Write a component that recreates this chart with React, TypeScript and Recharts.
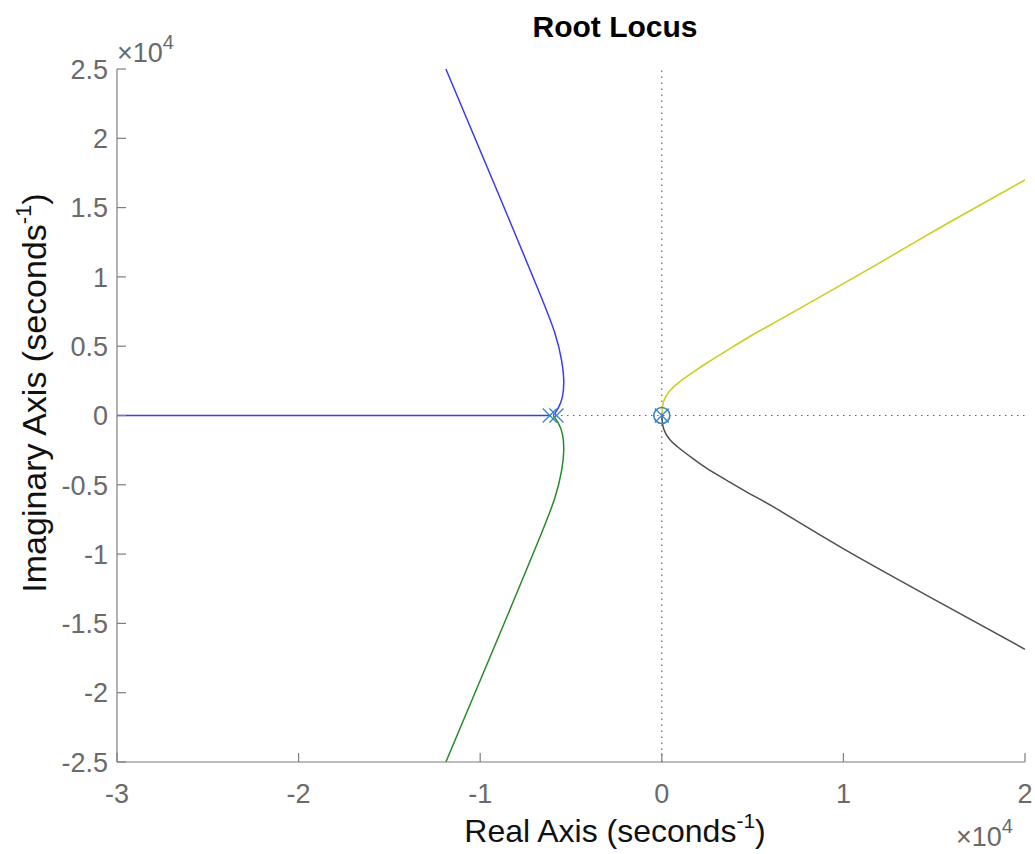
import React from 'react';
import { ComposedChart, Line, Scatter, XAxis, YAxis, ReferenceLine } from 'recharts';

// all values in units of 1e4 (seconds^-1)
const blueRe = [-0.598, -0.571, -0.547, -0.54, -0.552, -0.589, -0.672, -0.795, -0.9, -1.189];
const blueIm = [0, 0.052, 0.136, 0.256, 0.4, 0.595, 0.88, 1.27, 1.6, 2.5];
const greenRe = [-0.598, -0.571, -0.547, -0.54, -0.552, -0.589, -0.672, -0.795, -0.9, -1.189];
const greenIm = [0, -0.052, -0.136, -0.256, -0.4, -0.595, -0.88, -1.27, -1.6, -2.5];
const yellowRe = [0, 0.01, 0.045, 0.1, 0.17, 0.246, 0.36, 0.485, 0.62, 0.76, 1.072, 1.439, 1.714, 2.0];
const yellowIm = [0, 0.1, 0.18, 0.245, 0.31, 0.377, 0.47, 0.57, 0.67, 0.773, 1.005, 1.285, 1.49, 1.7];
const greyRe = [0, 0.01, 0.045, 0.1, 0.17, 0.246, 0.36, 0.485, 0.613, 0.98, 1.439, 2.0];
const greyIm = [0, -0.095, -0.175, -0.24, -0.31, -0.38, -0.47, -0.565, -0.658, -0.946, -1.283, -1.687];
const realAxisRe = [-3, -0.617];
const realAxisIm = [0, 0];
const poleRe = [-0.617, -0.58, 0];
const poleIm = [0, 0, 0];
const zeroRe = [0];
const zeroIm = [0];

const xTicks = [-3, -2, -1, 0, 1, 2];
const yTicks = [-2.5, -2, -1.5, -1, -0.5, 0, 0.5, 1, 1.5, 2, 2.5];

const toPoints = (re: number[], im: number[]) => re.map((x, i) => ({ x, y: im[i] }));

const FONT = '"Liberation Sans", Arial, Helvetica, sans-serif';
const AXIS = '#7d7d7d';
const TICK = '#6a6a6a';
const MARK = '#3a84c2';

const BottomTick = ({ x, y, payload }: any) => (
  <g>
    <line x1={x} y1={y} x2={x} y2={y - 9} stroke={AXIS} strokeWidth={1.2} />
    <text x={x} y={y + 41} textAnchor="middle" fill={TICK} fontSize={27} fontFamily={FONT}>
      {payload.value}
    </text>
  </g>
);

const TopTick = ({ x, y }: any) => (
  <line x1={x} y1={y} x2={x} y2={y + 9} stroke={AXIS} strokeWidth={1.2} />
);

const LeftTick = ({ x, y, payload }: any) => (
  <g>
    <line x1={x} y1={y} x2={x + 9} y2={y} stroke={AXIS} strokeWidth={1.2} />
    <text x={x - 9} y={y} dy="0.36em" textAnchor="end" fill={TICK} fontSize={27} fontFamily={FONT}>
      {payload.value}
    </text>
  </g>
);

const RightTick = ({ x, y }: any) => (
  <line x1={x} y1={y} x2={x - 9} y2={y} stroke={AXIS} strokeWidth={1.2} />
);

const PoleMark = ({ cx, cy }: any) => (
  <g stroke={MARK} strokeWidth={1.3}>
    <line x1={cx - 7} y1={cy - 7} x2={cx + 7} y2={cy + 7} />
    <line x1={cx - 7} y1={cy + 7} x2={cx + 7} y2={cy - 7} />
  </g>
);

const ZeroMark = ({ cx, cy }: any) => (
  <circle cx={cx} cy={cy} r={8} fill="none" stroke={MARK} strokeWidth={1.6} />
);

const lineProps = {
  dataKey: 'y',
  dot: false,
  activeDot: false,
  strokeWidth: 1.5,
  isAnimationActive: false,
  type: 'natural' as const,
};

export default function App() {
  return (
    <div style={{ position: 'absolute', left: 0, top: 0, width: 1035, height: 854, background: '#fff' }}>
      <ComposedChart width={1035} height={854} margin={{ top: 69, right: 10, bottom: 62, left: 57 }}>
        <XAxis
          xAxisId="b"
          type="number"
          dataKey="x"
          domain={[-3, 2]}
          ticks={xTicks}
          allowDataOverflow
          height={30}
          tickSize={0}
          tickMargin={0}
          tickLine={false}
          axisLine={{ stroke: AXIS, strokeWidth: 1.2 }}
          tick={<BottomTick />}
        />
        <XAxis
          xAxisId="t"
          orientation="top"
          type="number"
          dataKey="x"
          domain={[-3, 2]}
          ticks={xTicks}
          allowDataOverflow
          height={0}
          tickSize={0}
          tickMargin={0}
          tickLine={false}
          axisLine={{ stroke: AXIS, strokeWidth: 1.2 }}
          tick={<TopTick />}
        />
        <YAxis
          yAxisId="l"
          type="number"
          dataKey="y"
          domain={[-2.5, 2.5]}
          ticks={yTicks}
          allowDataOverflow
          width={60}
          tickSize={0}
          tickMargin={0}
          tickLine={false}
          axisLine={{ stroke: AXIS, strokeWidth: 1.2 }}
          tick={<LeftTick />}
        />
        <YAxis
          yAxisId="r"
          orientation="right"
          type="number"
          dataKey="y"
          domain={[-2.5, 2.5]}
          ticks={yTicks}
          allowDataOverflow
          width={0}
          tickSize={0}
          tickMargin={0}
          tickLine={false}
          axisLine={{ stroke: AXIS, strokeWidth: 1.2 }}
          tick={<RightTick />}
        />
        <ReferenceLine xAxisId="b" yAxisId="l" x={0} stroke="#666" strokeWidth={1.2} strokeDasharray="1.5 4.5" />
        <ReferenceLine xAxisId="b" yAxisId="l" y={0} stroke="#666" strokeWidth={1.2} strokeDasharray="1.5 4.5" />
        <Line {...lineProps} type="linear" xAxisId="b" yAxisId="l" data={toPoints(realAxisRe, realAxisIm)} stroke="#3b3bf2" />
        <Line {...lineProps} xAxisId="b" yAxisId="l" data={toPoints(blueRe, blueIm)} stroke="#3b3bf2" />
        <Line {...lineProps} xAxisId="b" yAxisId="l" data={toPoints(greenRe, greenIm)} stroke="#2a8a2a" />
        <Line {...lineProps} xAxisId="b" yAxisId="l" data={toPoints(yellowRe, yellowIm)} stroke="#cccc1c" />
        <Line {...lineProps} xAxisId="b" yAxisId="l" data={toPoints(greyRe, greyIm)} stroke="#4f4f4f" />
        <Scatter xAxisId="b" yAxisId="l" data={toPoints(zeroRe, zeroIm)} shape={<ZeroMark />} isAnimationActive={false} />
        <Scatter xAxisId="b" yAxisId="l" data={toPoints(poleRe, poleIm)} shape={<PoleMark />} isAnimationActive={false} />
      </ComposedChart>
      <svg width={1035} height={854} style={{ position: 'absolute', left: 0, top: 0, pointerEvents: 'none' }} fontFamily={FONT}>
        <text x={615} y={37} textAnchor="middle" fontSize={30} fontWeight="bold" fill="#000">
          Root Locus
        </text>
        <text x={615} y={842} textAnchor="middle" fontSize={32} fill="#111">
          Real Axis (seconds<tspan dy={-14} fontSize={21}>-1</tspan>
          <tspan dy={14}>)</tspan>
        </text>
        <text transform="translate(46,393) rotate(-90)" textAnchor="middle" fontSize={34} fill="#111">
          Imaginary Axis (seconds<tspan dy={-15} fontSize={22}>-1</tspan>
          <tspan dy={15}>)</tspan>
        </text>
        <text x={117} y={62} fontSize={27} fill={TICK}>
          ×10<tspan dy={-13} fontSize={20}>4</tspan>
        </text>
        <text x={956} y={846} fontSize={27} fill={TICK}>
          ×10<tspan dy={-13} fontSize={20}>4</tspan>
        </text>
      </svg>
    </div>
  );
}
